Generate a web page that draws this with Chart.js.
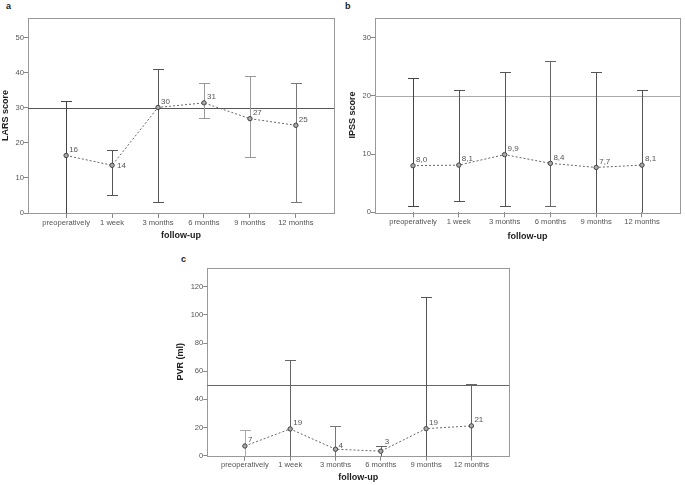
<!DOCTYPE html>
<html>
<head>
<meta charset="utf-8">
<script src="https://cdn.jsdelivr.net/npm/chart.js@4.4.1/dist/chart.umd.min.js"></script>
<style>
  body { margin: 0; background: #fff; width: 685px; height: 485px; position: relative; overflow: hidden; font-family: 'Liberation Sans', Arial, sans-serif; }
  canvas { position: absolute; }
  .tag { position: absolute; font-weight: bold; font-size: 9px; line-height: 10px; color: #222; }
</style>
</head>
<body>
<div class="tag" style="left:6px;top:1px">a</div>
<div class="tag" style="left:345px;top:1px">b</div>
<div class="tag" style="left:181px;top:254px">c</div>
<canvas id="chartA" width="340" height="243" style="left:0;top:0"></canvas>
<canvas id="chartB" width="345" height="243" style="left:340px;top:0"></canvas>
<canvas id="chartC" width="400" height="245" style="left:150px;top:240px"></canvas>
<script>
var followUp = ['preoperatively', '1 week', '3 months', '6 months', '9 months', '12 months'];

// a - LARS score
var larsMean = [16.4, 13.6, 30.1, 31.4, 26.9, 25.0];
var larsLow  = [0, 5, 3, 27, 16, 3];
var larsHigh = [32, 18, 41, 37, 39, 37];
var larsText = ['16', '14', '30', '31', '27', '25'];
var larsTicks = [0, 10, 20, 30, 40, 50];
var larsRef = 30;

// b - IPSS score
var ipssMean = [8.0, 8.1, 9.9, 8.4, 7.7, 8.1];
var ipssLow  = [1, 2, 1, 1, 0, 0];
var ipssHigh = [23, 21, 24, 26, 24, 21];
var ipssText = ['8,0', '8,1', '9,9', '8,4', '7,7', '8,1'];
var ipssTicks = [0, 10, 20, 30];
var ipssRef = 20;

// c - PVR (ml)
var pvrMean = [6.9, 19.0, 4.6, 3.2, 19.2, 21.2];
var pvrLow  = [0, 0, 0, 0, 0, 0];
var pvrHigh = [18, 68, 21, 7, 113, 51];
var pvrText = ['7', '19', '4', '3', '19', '21'];
var pvrTicks = [0, 20, 40, 60, 80, 100, 120];
var pvrRef = 50;

Chart.defaults.font.family = "'Liberation Sans', Arial, sans-serif";

// error bars, reference line, frame and value labels
var spssPlugin = {
  id: 'spss',
  beforeDatasetsDraw: function(chart) {
    var o = chart.options.plugins.spss;
    var ctx = chart.ctx, a = chart.chartArea;
    var xs = chart.scales.x, ys = chart.scales.y;
    ctx.save();
    ctx.lineWidth = 1;
    // frame
    ctx.strokeStyle = '#999';
    ctx.strokeRect(Math.round(a.left) + 0.5, Math.round(a.top) + 0.5,
      Math.round(a.right - a.left), Math.round(a.bottom - a.top));
    // reference line
    var ry = Math.round(ys.getPixelForValue(o.ref)) + 0.5;
    ctx.strokeStyle = o.refColor;
    ctx.beginPath();
    ctx.moveTo(a.left, ry);
    ctx.lineTo(a.right, ry);
    ctx.stroke();
    // range bars
    for (var i = 0; i < o.low.length; i++) {
      var x = Math.round(xs.getPixelForValue(i)) + 0.5;
      var yl = Math.round(ys.getPixelForValue(o.low[i])) + 0.5;
      var yh = Math.round(ys.getPixelForValue(o.high[i])) + 0.5;
      ctx.strokeStyle = o.barColors[i];
      ctx.beginPath();
      ctx.moveTo(x, yl); ctx.lineTo(x, yh);
      ctx.moveTo(x - 5.5, yh); ctx.lineTo(x + 5.5, yh);
      // lower cap sits on the axis when the minimum is 0, so it is hidden there
      if (o.low[i] > ys.min) {
        ctx.moveTo(x - 5.5, yl); ctx.lineTo(x + 5.5, yl);
      }
      ctx.stroke();
    }
    ctx.restore();
  },
  afterDatasetsDraw: function(chart) {
    var o = chart.options.plugins.spss;
    var ctx = chart.ctx;
    var pts = chart.getDatasetMeta(0).data;
    ctx.save();
    ctx.font = '8px "Liberation Sans", Arial, sans-serif';
    ctx.fillStyle = '#555';
    ctx.textAlign = 'left';
    ctx.textBaseline = 'middle';
    pts.forEach(function(p, i) {
      var off = o.labelOff[i] || [3, -6];
      ctx.fillText(o.text[i], p.x + off[0], p.y + off[1]);
    });
    ctx.restore();
  }
};

function makePanel(id, p) {
  new Chart(document.getElementById(id), {
    type: 'line',
    data: {
      datasets: [{
        data: p.mean.map(function(v, i) { return { x: i, y: v }; }),
        borderColor: '#666',
        borderWidth: 1,
        borderDash: [2, 2],
        pointRadius: 2.2,
        pointBorderWidth: 1,
        pointBorderColor: '#444',
        pointBackgroundColor: '#aaa'
      }]
    },
    options: {
      responsive: false,
      animation: false,
      devicePixelRatio: 1,
      layout: { padding: p.pad },
      plugins: {
        legend: { display: false },
        tooltip: { enabled: false },
        spss: {
          low: p.low, high: p.high, ref: p.ref, refColor: p.refColor,
          barColors: p.barColors, text: p.text, labelOff: p.labelOff
        }
      },
      scales: {
        x: {
          type: 'linear',
          min: -0.83, max: 5.83,
          afterBuildTicks: function(s) { s.ticks = followUp.map(function(c, i) { return { value: i }; }); },
          afterFit: function(s) { s.height = p.xH; },
          ticks: {
            callback: function(v) { return followUp[v]; },
            font: { size: 7.6 }, color: '#555', padding: 0, maxRotation: 0, autoSkip: false
          },
          grid: { drawOnChartArea: false, drawTicks: true, tickLength: 5, color: '#888' },
          border: { display: false },
          title: { display: true, text: 'follow-up', font: { size: 9, weight: 'bold' }, color: '#222', padding: 0 }
        },
        y: {
          min: 0, max: p.max,
          afterBuildTicks: function(s) { s.ticks = p.ticks.map(function(v) { return { value: v }; }); },
          afterFit: function(s) { s.width = p.yW; },
          ticks: { font: { size: 7.6 }, color: '#555', padding: 0 },
          grid: { drawOnChartArea: false, drawTicks: true, tickLength: 4, color: '#888' },
          border: { display: false },
          title: { display: true, text: p.yTitle, font: { size: 9, weight: 'bold' }, color: '#222', padding: 0 }
        }
      }
    },
    plugins: [spssPlugin]
  });
}

makePanel('chartA', {
  mean: larsMean, low: larsLow, high: larsHigh, text: larsText, ticks: larsTicks,
  ref: larsRef, refColor: '#555', max: 55.6, yTitle: 'LARS score',
  barColors: ['#444', '#555', '#555', '#999', '#999', '#777'],
  labelOff: { 1: [5, 0] },
  pad: { left: 0.6, right: 6, top: 18, bottom: 1.6 }, yW: 27.4, xH: 28.4
});

makePanel('chartB', {
  mean: ipssMean, low: ipssLow, high: ipssHigh, text: ipssText, ticks: ipssTicks,
  ref: ipssRef, refColor: '#aaa', max: 33.4, yTitle: 'IPSS score',
  barColors: ['#444', '#555', '#555', '#666', '#555', '#555'],
  labelOff: {},
  pad: { left: 7.6, right: 5, top: 17.7, bottom: 0.6 }, yW: 27.4, xH: 30.1
});

makePanel('chartC', {
  mean: pvrMean, low: pvrLow, high: pvrHigh, text: pvrText, ticks: pvrTicks,
  ref: pvrRef, refColor: '#666', max: 133.5, yTitle: 'PVR (ml)',
  barColors: ['#aaa', '#666', '#777', '#666', '#555', '#666'],
  labelOff: { 2: [3, -3], 3: [4, -9] },
  pad: { left: 25, right: 41, top: 27.7, bottom: 1.6 }, yW: 32.3, xH: 27.7
});
</script>
</body>
</html>
